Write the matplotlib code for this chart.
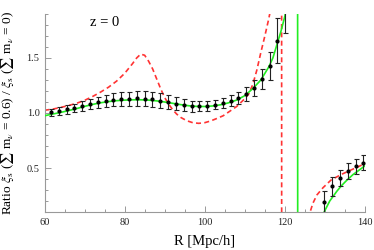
import matplotlib
matplotlib.use("Agg")
import matplotlib.pyplot as plt
from matplotlib.ticker import MultipleLocator

plt.rcParams['font.family'] = ['Liberation Serif', 'DejaVu Serif']
plt.rcParams['mathtext.fontset'] = 'stix'

# ---- data ----
R_pts = [61.6, 63.55, 65.5, 67.45, 69.4, 71.35, 73.3, 75.25, 77.2, 79.15, 81.1,
         83.05, 85.0, 86.95, 88.9, 90.85, 92.8, 94.75, 96.7, 98.65, 100.6,
         102.55, 104.5, 106.45, 108.4, 110.35, 112.3, 114.25, 116.2, 118.15,
         120.1, 129.85, 131.8, 133.75, 135.7, 137.65, 139.6]
ratio_pts = [1.005, 1.018, 1.032, 1.046, 1.063, 1.082, 1.098, 1.110, 1.122, 1.128,
             1.131, 1.132, 1.130, 1.125, 1.112, 1.098, 1.085, 1.070, 1.063, 1.062,
             1.066, 1.077, 1.092, 1.110, 1.135, 1.172, 1.227, 1.309, 1.431, 1.657,
             2.0, 0.19, 0.335, 0.41, 0.475, 0.515, 0.55]
err_pts = [0.035, 0.036, 0.038, 0.040, 0.043, 0.046, 0.050, 0.053, 0.057, 0.060,
           0.063, 0.065, 0.067, 0.067, 0.066, 0.064, 0.060, 0.055, 0.050, 0.047,
           0.045, 0.045, 0.047, 0.050, 0.053, 0.060, 0.070, 0.088, 0.127, 0.206,
           0.27, 0.10, 0.085, 0.075, 0.072, 0.066, 0.065]

green_R = [60, 62, 64, 66, 68, 70, 72, 74, 76, 78, 80, 82, 84, 86, 88, 90, 92, 94,
           96, 98, 100, 102, 104, 106, 108, 110, 112, 114, 116, 117, 118, 119, 120,
           121, 122, 122.7, 123.1, 123.3, 124, 125, 126.5, 128, 129.8, 130.5, 131.2,
           132.1, 133, 134.2, 135.5, 137, 138.5, 140]
green_v = [0.975, 0.99, 1.005, 1.022, 1.04, 1.06, 1.078, 1.093, 1.104, 1.112, 1.117,
           1.12, 1.12, 1.117, 1.11, 1.1, 1.088, 1.076, 1.066, 1.06, 1.059, 1.064,
           1.075, 1.093, 1.118, 1.158, 1.222, 1.30, 1.42, 1.5, 1.62, 1.74, 1.88,
           2.1, 2.6, 3.5, 10, -10, -4.9, -1.7, -0.6, -0.16, 0.1, 0.15, 0.2, 0.245,
           0.29, 0.342, 0.39, 0.44, 0.48, 0.52]

red_R = [60, 62, 64, 66, 68, 70, 72, 74, 76, 78, 80, 82, 83, 84, 85, 86, 87, 88, 89,
         90, 91, 92, 93, 94, 95.5, 97, 98.5, 100, 101.5, 103, 104.6, 106, 108, 110,
         111, 112, 113, 114, 115, 116, 117, 118, 118.8, 119.15, 119.25, 120, 122,
         124, 125.5, 126.3, 127, 128, 129.5, 131.5, 134, 137, 140]
red_v = [1.025, 1.035, 1.05, 1.068, 1.088, 1.115, 1.15, 1.19, 1.235, 1.29, 1.36,
         1.45, 1.50, 1.535, 1.525, 1.47, 1.40, 1.31, 1.22, 1.14, 1.08, 1.03, 0.99,
         0.96, 0.93, 0.912, 0.906, 0.912, 0.928, 0.95, 0.975, 1.01, 1.06, 1.13,
         1.175, 1.26, 1.39, 1.55, 1.70, 1.86, 2.05, 2.5, 4, 10, -10, -5.2, -0.95,
         -0.22, 0.02, 0.1, 0.18, 0.255, 0.32, 0.39, 0.44, 0.49, 0.54]

x_major = [60, 80, 100, 120, 140]
y_major = [0.5, 1.0, 1.5]

# ---- figure ----
fig = plt.figure(figsize=(3.74, 2.5), dpi=100)
ax = fig.add_axes([44.5 / 374, 38 / 250, (365 - 44.5) / 374, (236 - 38) / 250])

ax.plot(red_R, red_v, color='#ff3333', lw=1.2, dashes=(3, 2), zorder=2)
ax.plot(green_R, green_v, color='#22ee22', lw=1.2, zorder=3)
ax.errorbar(R_pts, ratio_pts, yerr=err_pts, fmt='o', ms=2.0, color='black',
            ecolor='#222222', elinewidth=0.8, capsize=1.8, capthick=0.8, zorder=4)

ax.set_xlim(60, 140)
ax.set_ylim(0.1, 1.9)

for s in ['top', 'right']:
    ax.spines[s].set_visible(False)
for s in ['left', 'bottom']:
    ax.spines[s].set_color('#999999')
    ax.spines[s].set_linewidth(0.8)

ax.set_xticks(x_major)
ax.set_yticks(y_major)
ax.set_yticklabels(['0.5', '1.0', '1.5'])
ax.xaxis.set_minor_locator(MultipleLocator(5))
ax.yaxis.set_minor_locator(MultipleLocator(0.1))
ax.tick_params(which='both', direction='in', color='#999999', labelsize=7.5,
               labelcolor='#222222', width=0.7)
ax.tick_params(which='major', length=4)
ax.tick_params(which='minor', length=2.2)
ax.tick_params(axis='x', pad=4)

ax.set_xlabel('R [Mpc/h]', fontsize=10.5, labelpad=6)
ax.set_ylabel(r'Ratio $\bar{\xi}_{\rm s}$ ($\sum$ m$_\nu$ = 0.6) / $\bar{\xi}_{\rm s}$ ($\sum$ m$_\nu$ = 0)',
              fontsize=9.6, labelpad=7)
ax.text(75, 1.82, 'z = 0', fontsize=10.5, ha='center', va='center')

fig.savefig('out.png', dpi=100)
